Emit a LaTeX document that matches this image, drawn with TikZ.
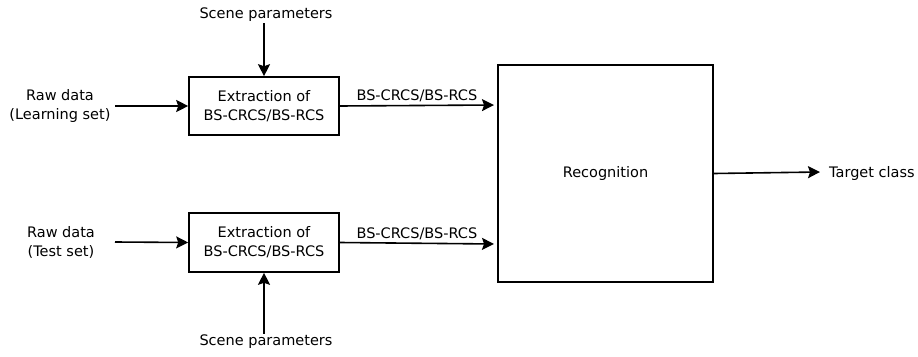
\documentclass[tikz,border=0pt]{standalone}
\usepackage{fontspec}
\setmainfont{DejaVu Sans}
\usetikzlibrary{arrows.meta}
\begin{document}
\begin{tikzpicture}[x=1pt,y=-1pt,
  box/.style={draw,line width=1.6pt,inner sep=0pt},
  lbl/.style={font=\fontsize{14.5pt}{19pt}\selectfont,align=center,inner sep=1pt},
  arr/.style={line width=1.6pt,-{Stealth[length=12pt,width=12pt,inset=2pt]}}]
\useasboundingbox (0,0) rectangle (918,356);
\node[box,minimum width=150pt,minimum height=58pt,lbl] (e1) at (264,106) {Extraction of\\BS-CRCS/BS-RCS};
\node[box,minimum width=150pt,minimum height=59pt,lbl] (e2) at (264,242.5) {Extraction of\\BS-CRCS/BS-RCS};
\node[box,minimum width=215pt,minimum height=217pt,lbl] (rec) at (605.5,173.5) {Recognition};
\node[lbl] (sp1) at (266,15) {Scene parameters};
\node[lbl] (sp2) at (266,342) {Scene parameters};
\node[lbl] (rd1) at (60,106) {Raw data\\(Learning set)};
\node[lbl] (rd2) at (61,242) {Raw data\\(Test set)};
\node[lbl,anchor=west] (tc) at (828,173) {Target class};
\coordinate (a1s) at (115,106);
\coordinate (a2s) at (115,242);
\coordinate (o1e) at (494,105);
\coordinate (o2e) at (494,244);
\coordinate (tce) at (820,172);
\draw[arr] (sp1.south -| e1.north) -- (e1.north);
\draw[arr] (sp2.north -| e2.south) -- (e2.south);
\draw[arr] (a1s) -- (e1.west);
\draw[arr] (a2s) -- (e2.west);
\draw[arr] (e1.east) -- node[lbl,above=2pt] (l1) {BS-CRCS/BS-RCS} (o1e);
\draw[arr] (e2.east) -- node[lbl,above=2pt] (l2) {BS-CRCS/BS-RCS} (o2e);
\draw[arr] (rec.east) -- (tce);
\end{tikzpicture}
\end{document}
